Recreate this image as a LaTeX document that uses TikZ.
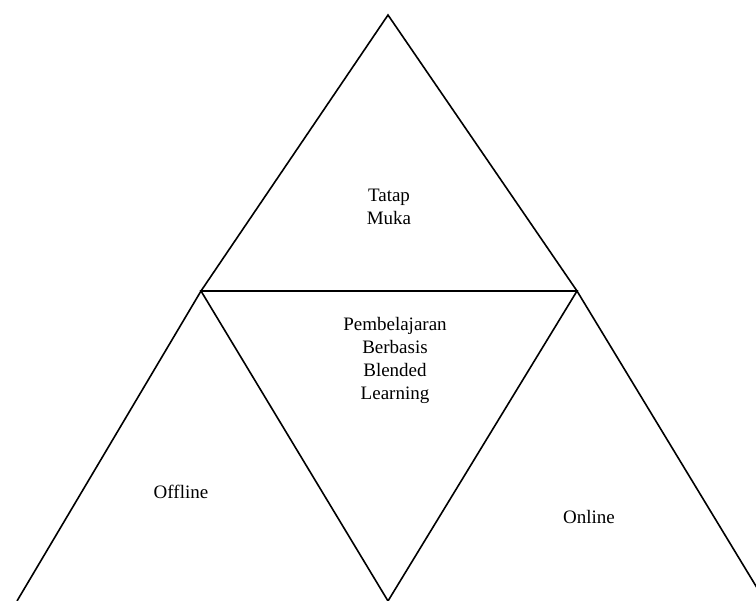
\documentclass[tikz,border=0pt]{standalone}
\usepackage{fontspec}
\setmainfont{Liberation Serif}
\begin{document}
\begin{tikzpicture}[x=1pt,y=-1pt,
  edge/.style={draw=black,line width=1.6pt,line join=miter},
  lbl/.style={font=\fontsize{19}{23}\selectfont,align=center,inner sep=0pt,anchor=base},
  mlbl/.style={font=\fontsize{19}{23}\selectfont,align=center,inner sep=0pt,anchor=north}]
\useasboundingbox (0,0) rectangle (756,601);
\coordinate (top) at (388,15);
\coordinate (ml) at (201,291);
\coordinate (mr) at (577,291);
\coordinate (bot) at (388,601);
\coordinate (bl) at (17,601);
\coordinate (br) at (765,601);
\begin{scope}
\clip (0,0) rectangle (756,601);
\draw[edge] (bl) -- (ml) -- (top) -- (mr) -- (br);
\draw[edge] (ml) -- (mr) -- (bot) -- cycle;
\end{scope}
\node[mlbl] (tatap) at (389,189) {Tatap\\Muka};
\node[mlbl] (pbl) at (395,317) {Pembelajaran\\Berbasis\\Blended\\Learning};
\node[lbl] (off) at (181,499) {Offline};
\node[lbl] (on) at (589,524) {Online};
\end{tikzpicture}
\end{document}
